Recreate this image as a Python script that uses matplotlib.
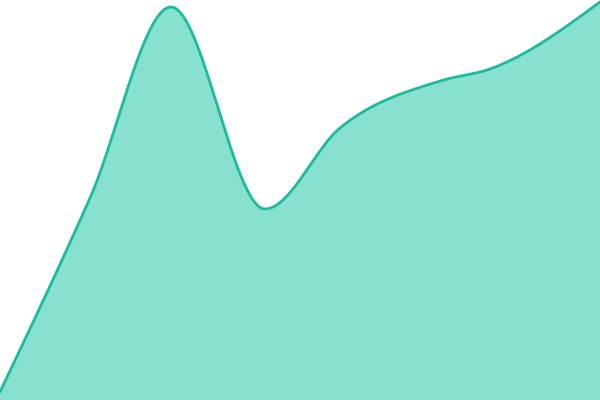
import numpy as np
import matplotlib
matplotlib.use("Agg")
import matplotlib.pyplot as plt

# data (x in px-like units, y value with 0 at bottom)
xs = [0, 90, 171, 265, 340, 440, 490, 600]
vals = [8, 202, 393, 191, 272, 319, 331, 398]

LINE = "#1abc9c"
FILL = "#88e0cf"


def monotone_slopes(x, y):
    x = np.asarray(x, float)
    y = np.asarray(y, float)
    h = np.diff(x)
    s = np.diff(y) / h
    t = np.zeros_like(y)
    for i in range(1, len(y) - 1):
        p = (s[i - 1] * h[i] + s[i] * h[i - 1]) / (h[i - 1] + h[i])
        t[i] = (np.sign(s[i - 1]) + np.sign(s[i])) * min(
            abs(s[i - 1]), abs(s[i]), 0.5 * abs(p))
    t[0] = (3 * s[0] - t[1]) / 2
    t[-1] = (3 * s[-1] - t[-2]) / 2
    return t


def smooth_curve(x, y, n=60):
    x = np.asarray(x, float)
    y = np.asarray(y, float)
    t = monotone_slopes(x, y)
    px, py = [], []
    for i in range(len(x) - 1):
        h = x[i + 1] - x[i]
        u = np.linspace(0, 1, n, endpoint=(i == len(x) - 2))
        h00 = 2 * u**3 - 3 * u**2 + 1
        h10 = u**3 - 2 * u**2 + u
        h01 = -2 * u**3 + 3 * u**2
        h11 = u**3 - u**2
        px.append(x[i] + u * h)
        py.append(h00 * y[i] + h10 * h * t[i] + h01 * y[i + 1] + h11 * h * t[i + 1])
    return np.concatenate(px), np.concatenate(py)


cx, cy = smooth_curve(xs, vals)

fig = plt.figure(figsize=(6, 4), dpi=100)
ax = fig.add_axes([0, 0, 1, 1])
ax.fill_between(cx, 0, cy, color=FILL, lw=0)
ax.plot(cx, cy, color=LINE, lw=2.0, solid_capstyle="round")
ax.set_xlim(0, 600)
ax.set_ylim(0, 400)
ax.axis("off")
fig.savefig("out.png", dpi=100)
